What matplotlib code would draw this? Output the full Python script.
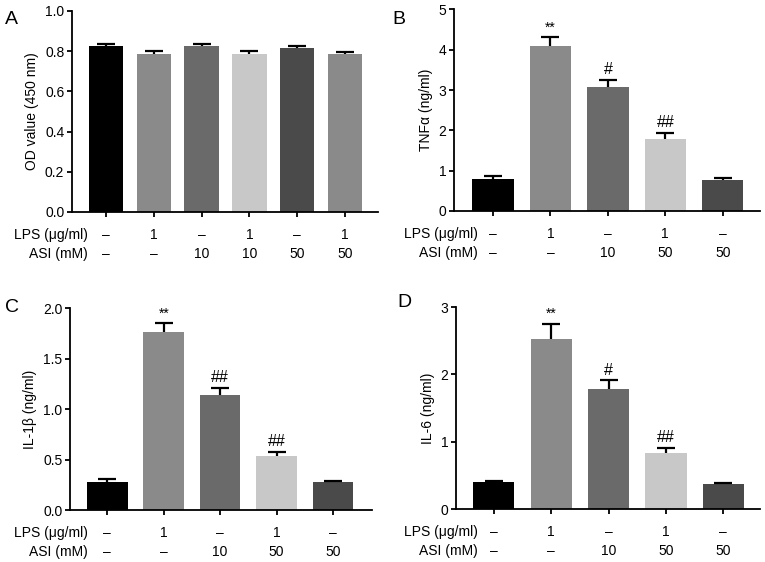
import numpy as np
import matplotlib
matplotlib.use("Agg")
import matplotlib.pyplot as plt
import matplotlib.transforms as mtrans

plt.rcParams['font.family'] = ['Liberation Sans', 'DejaVu Sans']

# Panel A: cell viability (OD)
lps_a = ['–', '1', '–', '1', '–', '1']
asi_a = ['–', '–', '10', '10', '50', '50']
od_mean = [0.828, 0.788, 0.826, 0.788, 0.815, 0.785]
od_err = [0.008, 0.012, 0.009, 0.012, 0.010, 0.010]

# Panels B-D: cytokines
lps_bcd = ['–', '1', '–', '1', '–']
asi_bcd = ['–', '–', '10', '50', '50']
tnf_mean = [0.785, 4.09, 3.07, 1.78, 0.76]
tnf_err = [0.085, 0.22, 0.18, 0.16, 0.07]
tnf_sig = ['', '**', '#', '##', '']
il1b_mean = [0.28, 1.76, 1.14, 0.53, 0.28]
il1b_err = [0.03, 0.09, 0.07, 0.045, 0.008]
il1b_sig = ['', '**', '##', '##', '']
il6_mean = [0.40, 2.53, 1.78, 0.83, 0.37]
il6_err = [0.015, 0.22, 0.13, 0.08, 0.02]
il6_sig = ['', '**', '#', '##', '']

colors6 = ['#000000', '#8a8a8a', '#6a6a6a', '#c8c8c8', '#4a4a4a', '#8a8a8a']
fs = 10

fig = plt.figure(figsize=(7.65, 5.62), dpi=100)


def panel(rect, means, errs, sigs, lps, asi, ylabel, yticks, yfmt, xlim, rowx):
    ax = fig.add_axes(rect)
    n = len(means)
    x = np.arange(n)
    ax.bar(x, means, width=0.72, color=colors6[:n], zorder=2)
    eb = ax.errorbar(x, means, yerr=[np.zeros(n), errs], fmt='none', ecolor='black',
                     elinewidth=1.6, capsize=6.5, capthick=1.6, zorder=3)
    eb[1][0].set_visible(False)  # only the upper half of each error bar
    for xi, m, e, s in zip(x, means, errs, sigs):
        if s:
            ax.annotate(s, (xi, m + e), xytext=(0, 2), textcoords='offset points',
                        ha='center', va='bottom', fontsize=11.5 if '#' in s else 10)
    ax.set_xlim(*xlim)
    ax.set_ylim(yticks[0], yticks[-1])
    ax.set_yticks(yticks)
    ax.set_yticklabels([yfmt.format(v) for v in yticks])
    ax.set_xticks(x)
    ax.set_xticklabels([])
    ax.set_ylabel(ylabel, fontsize=fs, labelpad=4)
    for sp in ['top', 'right']:
        ax.spines[sp].set_visible(False)
    for sp in ['left', 'bottom']:
        ax.spines[sp].set_linewidth(1.3)
    ax.tick_params(axis='both', direction='out', length=3.5, width=1.3, labelsize=fs, pad=2)
    tr = mtrans.blended_transform_factory(ax.transData, ax.transAxes)
    ax.text(rowx, -0.114, 'LPS (μg/ml)', transform=tr, ha='right', va='center', fontsize=fs)
    ax.text(rowx, -0.209, 'ASI (mM)', transform=tr, ha='right', va='center', fontsize=fs)
    for xi, l, a in zip(x, lps, asi):
        ax.text(xi, -0.114, l, transform=tr, ha='center', va='center', fontsize=fs)
        ax.text(xi, -0.209, a, transform=tr, ha='center', va='center', fontsize=fs)
    return ax


panel([0.0941, 0.6228, 0.400, 0.3577], od_mean, od_err, ['']*6, lps_a, asi_a,
      'OD value (450 nm)', [0.0, 0.2, 0.4, 0.6, 0.8, 1.0], '{:.1f}', (-0.71, 5.69), -0.38)
panel([0.5935, 0.6246, 0.400, 0.3585], tnf_mean, tnf_err, tnf_sig, lps_bcd, asi_bcd,
      'TNFα (ng/ml)', [0, 1, 2, 3, 4, 5], '{:d}', (-0.68, 4.65), -0.26)
panel([0.0915, 0.0925, 0.3948, 0.3594], il1b_mean, il1b_err, il1b_sig, lps_bcd, asi_bcd,
      'IL-1β (ng/ml)', [0.0, 0.5, 1.0, 1.5, 2.0], '{:.1f}', (-0.66, 4.69), -0.34)
panel([0.596, 0.0943, 0.3974, 0.3594], il6_mean, il6_err, il6_sig, lps_bcd, asi_bcd,
      'IL-6 (ng/ml)', [0, 1, 2, 3], '{:d}', (-0.66, 4.64), -0.28)

for lbl, px, py in [('A', 5, 11), ('B', 392, 11), ('C', 5, 299), ('D', 397, 294)]:
    fig.text(px / 765, 1 - py / 562, lbl, fontsize=14, ha='left', va='top')

fig.savefig('out.png', dpi=100)
